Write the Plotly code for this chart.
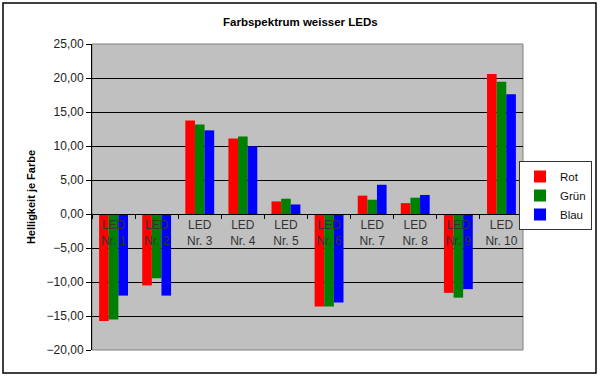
import plotly.graph_objects as go

categories = ["LED<br>Nr. 1", "LED<br>Nr. 2", "LED<br>Nr. 3", "LED<br>Nr. 4", "LED<br>Nr. 5",
              "LED<br>Nr. 6", "LED<br>Nr. 7", "LED<br>Nr. 8", "LED<br>Nr. 9", "LED<br>Nr. 10"]
rot = [-15.75, -10.5, 13.75, 11.1, 1.85, -13.6, 2.7, 1.6, -11.6, 20.6]
gruen = [-15.5, -9.45, 13.15, 11.4, 2.25, -13.6, 2.1, 2.4, -12.3, 19.45]
blau = [-12.0, -12.0, 12.3, 9.95, 1.4, -13.0, 4.3, 2.8, -11.05, 17.6]
series = [("Rot", rot, "#FF0000"), ("Grün", gruen, "#008000"), ("Blau", blau, "#0000FF")]

W, H = 600, 378
L, R, T, B = 92, 523, 44, 350

def px_x(p):
    return (p - L) / (R - L)

def px_y(p):
    return (B - p) / (B - T)

fig = go.Figure()
for name, vals, col in series:
    fig.add_trace(go.Bar(x=categories, y=vals, name=name, marker_color=col,
                         marker_line_width=0))

font_family = "Liberation Sans, Arial, sans-serif"
fig.update_layout(
    width=W, height=H,
    margin=dict(l=L, r=W - R, t=T, b=H - B, autoexpand=False),
    paper_bgcolor="white", plot_bgcolor="#C0C0C0",
    separators=",.",
    barmode="group", bargap=0.33, bargroupgap=0,
    font=dict(family=font_family, color="#222222", size=12),
    showlegend=True,
    legend=dict(x=px_x(592), y=px_y(161), xanchor="right", yanchor="top",
                bgcolor="white", bordercolor="#333333", borderwidth=1,
                font=dict(size=11.5, color="#111111"), itemwidth=30,
                tracegroupgap=0),
    xaxis=dict(anchor="free", position=20 / 45, showgrid=False,
               showline=True, linecolor="black", linewidth=1,
               ticks="outside", ticklen=4, tickcolor="black", tickson="boundaries",
               tickangle=0, automargin=False,
               tickfont=dict(size=12, color="#333333"), zeroline=False,
               fixedrange=True),
    yaxis=dict(range=[-20, 25], dtick=5, tickformat=".2f", automargin=False,
               showgrid=True, gridcolor="black", gridwidth=1,
               showline=True, linecolor="black", linewidth=1,
               ticks="outside", ticklen=5, tickcolor="black",
               zeroline=False, tickfont=dict(size=12, color="#222222"),
               title=dict(text="<b>Helligkeit je Farbe</b>", font=dict(size=11, color="black"),
                          standoff=8)),
    shapes=[
        dict(type="rect", xref="paper", yref="paper", x0=0, x1=1, y0=0, y1=1,
             line=dict(color="#808080", width=1), layer="below"),
        dict(type="rect", xref="paper", yref="paper", x0=px_x(3), x1=px_x(596),
             y0=px_y(373), y1=px_y(3), line=dict(color="black", width=1.5)),
    ],
    annotations=[
        dict(text="<b>Farbspektrum weisser LEDs</b>", xref="paper", yref="paper",
             x=px_x(300), y=px_y(22), xanchor="center", yanchor="middle",
             showarrow=False, font=dict(size=11.5, color="black")),
    ],
)

fig.write_html("out.html", config={"displayModeBar": False},
               post_script="document.body.style.margin='0';")
